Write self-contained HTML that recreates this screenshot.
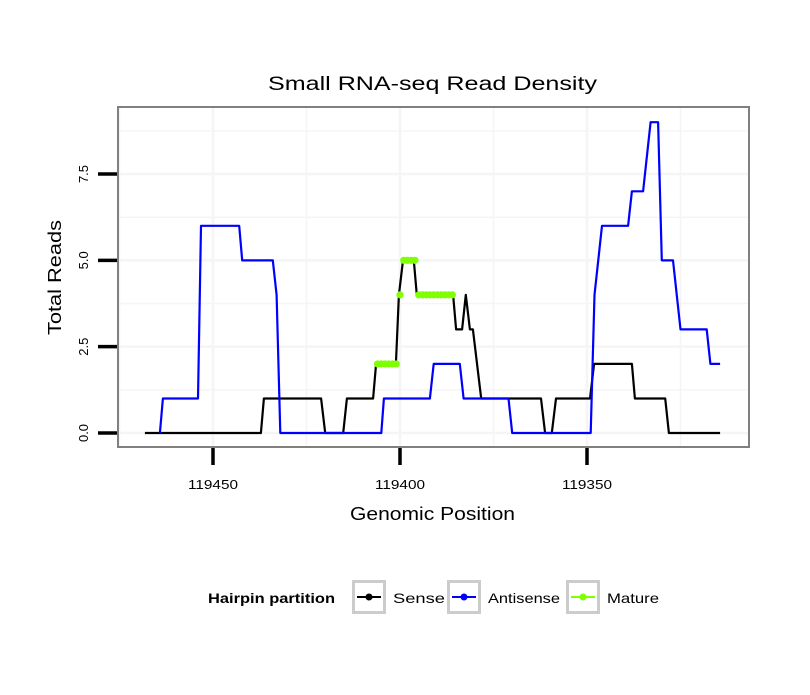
<!DOCTYPE html>
<html><head><meta charset="utf-8"><style>
body{margin:0;background:#fff;}
svg text{font-family:"Liberation Sans",sans-serif;}
</style></head><body>
<svg id="chart" width="810" height="690" xmlns="http://www.w3.org/2000/svg">
<rect width="810" height="690" fill="#fff"/>
<text x="268" y="90" font-size="19" textLength="329" lengthAdjust="spacingAndGlyphs">Small RNA-seq Read Density</text>
<g id="grid"></g>
<g id="series"></g>
<rect x="118" y="107" width="631" height="340" fill="none" stroke="#808080" stroke-width="2"/>
<g id="axes"></g>
<text x="350" y="520" font-size="18" textLength="165" lengthAdjust="spacingAndGlyphs">Genomic Position</text>
<text transform="translate(61,335) rotate(-90)" font-size="18" textLength="115" lengthAdjust="spacingAndGlyphs">Total Reads</text>
<g>
<text x="208" y="603" font-size="14" font-weight="bold" textLength="127" lengthAdjust="spacingAndGlyphs">Hairpin partition</text>
<g>
<rect x="353.5" y="581.5" width="31" height="31" fill="#fff" stroke="#cccccc" stroke-width="3"/>
<line x1="357" y1="597" x2="381" y2="597" stroke="#000" stroke-width="2"/><circle cx="369" cy="597" r="3.5" fill="#000"/>
<text x="393" y="603" font-size="14" textLength="52" lengthAdjust="spacingAndGlyphs">Sense</text></g>
<g>
<rect x="448.5" y="581.5" width="31" height="31" fill="#fff" stroke="#cccccc" stroke-width="3"/>
<line x1="452" y1="597" x2="476" y2="597" stroke="#0000ff" stroke-width="2"/><circle cx="464" cy="597" r="3.5" fill="#0000ff"/>
<text x="488" y="603" font-size="14" textLength="72" lengthAdjust="spacingAndGlyphs">Antisense</text></g>
<g>
<rect x="567.5" y="581.5" width="31" height="31" fill="#fff" stroke="#cccccc" stroke-width="3"/>
<line x1="571" y1="597" x2="595" y2="597" stroke="#7fff00" stroke-width="2"/><circle cx="583" cy="597" r="3.5" fill="#7fff00"/>
<text x="607" y="603" font-size="14" textLength="52" lengthAdjust="spacingAndGlyphs">Mature</text></g>
</g>
</svg>
<script>
const xTicks = [119450, 119400, 119350];
const yTicks = [0, 2.5, 5, 7.5];
const yTickLabels = ["0.0", "2.5", "5.0", "7.5"];
const senseX = [119468.2,119437.2,119436.4,119421.1,119420,119415.2,119414.2,119407.2,119406.4,119401.1,119400.3,119399.2,119396.3,119395.5,119385.8,119385,119383.4,119382.4,119381.3,119380.5,119378.3,119362.3,119361.2,119359.4,119358.3,119349.2,119348.1,119338,119337.2,119329.1,119328.1,119314.4];
const senseY = [0,0,1,1,0,0,1,1,2,2,4,5,5,4,4,3,3,4,3,3,1,1,0,0,1,1,2,2,1,1,0,0];
const antiX = [119464.2,119463.4,119454,119453.2,119443,119442.2,119434,119433,119432,119405,119404.3,119392,119391,119384,119383,119371,119370,119349,119348,119346,119339,119338,119335,119333,119331,119330,119327,119325,119318,119317,119314.4];
const antiY = [0,1,1,6,6,5,5,4,0,0,1,1,2,2,1,1,0,0,4,6,6,7,7,9,9,5,5,3,3,2,2];
const matureX = [119406,119405,119404,119403,119402,119401,null,119400,null,119399,119398,119397,119396,null,119395,119394,119393,119392,119391,119390,119389,119388,119387,119386];
const matureY = [2,2,2,2,2,2,null,4,null,5,5,5,5,null,4,4,4,4,4,4,4,4,4,4];

const NS="http://www.w3.org/2000/svg";
const xs = v => 400 + (119400 - v) * 3.74;
const ys = v => 433 - v * 34.53;
function mk(tag, attrs, parent){const e=document.createElementNS(NS,tag);for(const k in attrs)e.setAttribute(k,attrs[k]);parent.appendChild(e);return e;}
const grid=document.getElementById('grid'), ser=document.getElementById('series'), axes=document.getElementById('axes');
mk('rect',{x:118,y:107,width:631,height:340,fill:'#fff'},grid);
const gx=[];for(let v=119475;v>=119300;v-=25)gx.push(v);
gx.forEach(v=>{const x=xs(v);if(x>118&&x<749){const l=mk('line',{x1:x,x2:x,y1:108,y2:446,stroke:'#f5f5f5','stroke-width':(v%50===0)?2.5:1.5},grid);

}});
for(let v=0;v<=10;v+=1.25){const y=ys(v);if(y>108&&y<446){const l=mk('line',{x1:119,x2:748,y1:y,y2:y,stroke:'#f5f5f5','stroke-width':(v%2.5===0)?2.5:1.5},grid);

}}
function path(X,Y){let d='',pen=false;for(let i=0;i<X.length;i++){if(X[i]===null){pen=false;continue;}d+=(pen?'L':'M')+xs(X[i]).toFixed(1)+','+ys(Y[i]).toFixed(1);pen=true;}return d;}
const ps=mk('path',{d:path(senseX,senseY),fill:'none',stroke:'#000','stroke-width':2.2,'stroke-linejoin':'round'},ser);


const pa=mk('path',{d:path(antiX,antiY),fill:'none',stroke:'#0000ff','stroke-width':2.2,'stroke-linejoin':'round'},ser);


const pm=mk('path',{d:path(matureX,matureY),fill:'none',stroke:'#7fff00','stroke-width':2.2},ser);


matureX.forEach((v,i)=>{if(v===null)return;const c=mk('circle',{cx:xs(v),cy:ys(matureY[i]),r:3.6,fill:'#7fff00'},ser);

});
xTicks.forEach(v=>{const x=xs(v);const t=mk('line',{x1:x,x2:x,y1:448,y2:465,stroke:'#000','stroke-width':3.5},axes);


const l=mk('text',{x:x-25,y:489,'font-size':13,textLength:50,lengthAdjust:'spacingAndGlyphs'},axes);l.textContent=v;

});
yTicks.forEach((v,i)=>{const y=ys(v);const t=mk('line',{x1:98,x2:117,y1:y,y2:y,stroke:'#000','stroke-width':3.5},axes);


const l=mk('text',{transform:`translate(88,${y}) rotate(-90)`,'font-size':13,'text-anchor':'middle'},axes);l.textContent=yTickLabels[i];

});
</script>
</body></html>
